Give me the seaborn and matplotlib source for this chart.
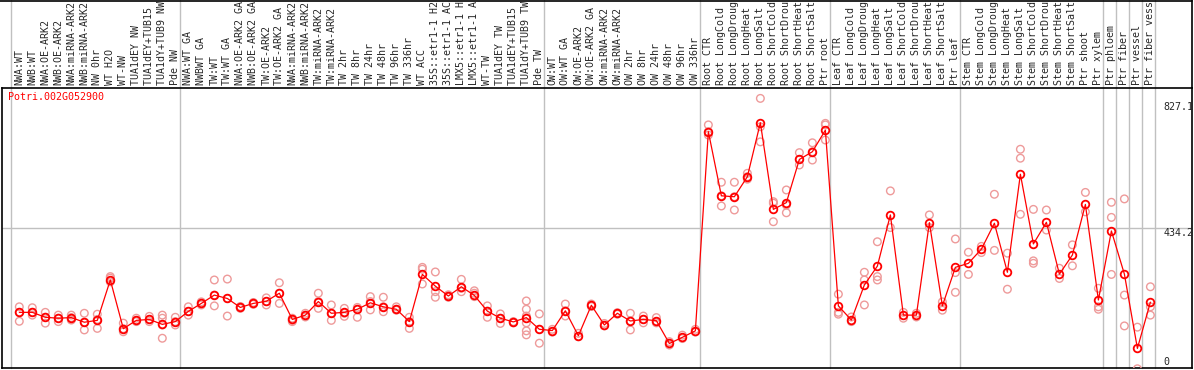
import numpy as np
import pandas as pd
import matplotlib.pyplot as plt
from matplotlib.lines import Line2D
import seaborn as sns

# sample names, in plotting order (groups separated by gray lines)
labels_nw = ["NWA:WT", "NWB:WT", "NWA:OE-ARK2", "NWB:OE-ARK2", "NWA:miRNA-ARK2",
             "NWB:miRNA-ARK2", "NW 0hr", "WT H2O", "WT-NW", "TUA1dEY NW",
             "TUA1dEY+TUB15 NW", "TUA1dY+TUB9 NW", "Pde NW"]
labels_tw = ["NWA:WT GA", "NWBWT GA", "TW:WT", "TW:WT GA", "NWA:OE-ARK2 GA",
             "NWB:OE-ARK2 GA", "TW:OE-ARK2", "TW:OE-ARK2 GA", "NWA:miRNA-ARK2",
             "NWB:miRNA-ARK2", "TW:miRNA-ARK2", "TW:miRNA-ARK2", "TW 2hr", "TW 8hr",
             "TW 24hr", "TW 48hr", "TW 96hr", "TW 336hr", "WT ACC",
             "35S::etr1-1 H2O", "35S::etr1-1 ACC", "LMX5::etr1-1 H2O",
             "LMX5::etr1-1 ACC", "WT-TW", "TUA1dEY TW", "TUA1dEY+TUB15 TW",
             "TUA1dY+TUB9 TW", "Pde TW"]
labels_ow = ["OW:WT", "OW:WT GA", "OW:OE-ARK2", "OW:OE-ARK2 GA", "OW:miRNA-ARK2",
             "OW:miRNA-ARK2", "OW 2hr", "OW 8hr", "OW 24hr", "OW 48hr", "OW 96hr",
             "OW 336hr"]
labels_root = ["Root CTR", "Root LongCold", "Root LongDrought", "Root LongHeat",
               "Root LongSalt", "Root ShortCold", "Root ShortDrought",
               "Root ShortHeat", "Root ShortSalt", "Ptr root"]
labels_leaf = ["Leaf CTR", "Leaf LongCold", "Leaf LongDrought", "Leaf LongHeat",
               "Leaf LongSalt", "Leaf ShortCold", "Leaf ShortDrought",
               "Leaf ShortHeat", "Leaf ShortSalt", "Ptr leaf"]
labels_stem = ["Stem CTR", "Stem LongCold", "Stem LongDrought", "Stem LongHeat",
               "Stem LongSalt", "Stem ShortCold", "Stem ShortDrought",
               "Stem ShortHeat", "Stem ShortSalt", "Ptr shoot", "Ptr xylem"]
labels_tissue = ["Ptr phloem", "Ptr fiber", "Ptr vessel", "Ptr fiber vessel"]

groups = [labels_nw, labels_tw, labels_ow, labels_root, labels_leaf, labels_stem]
labels = sum(groups, []) + labels_tissue

# mean expression per sample
means = [161, 161, 145, 142, 144, 129, 135, 266, 108, 135, 138, 122, 131,
         164, 190, 217, 206, 177, 190, 197, 223, 138, 152, 196, 158, 161, 171,
         192, 179, 171, 131, 284, 246, 214, 244, 216, 165, 142, 130, 144, 106,
         102, 166, 85, 184, 120, 158, 133, 138, 134, 60, 80, 101,
         747, 539, 536, 601, 776, 495, 517, 657, 682, 752,
         182, 136, 250, 311, 477, 152, 152, 452, 182, 307,
         320, 366, 450, 291, 609, 383, 453, 285, 347, 511, 201,
         425, 285, 44, 194]

# replicate values per sample
replicates = [
    [179, 161, 132], [176, 161, 152], [161, 145, 126], [152, 142, 131],
    [152, 144, 136], [158, 129, 104], [155, 138, 109], [277, 272, 260],
    [126, 108, 98], [142, 135, 131], [148, 138, 131], [152, 142, 120, 77],
    [145, 131, 120],
    [179, 164, 152], [195, 190, 185], [266, 217, 182], [269, 206, 149],
    [180, 177, 174], [193, 190, 187], [208, 196, 185], [257, 223, 190],
    [142, 135, 131], [158, 152, 146], [223, 196, 174], [185, 158, 135],
    [174, 158, 148], [177, 171, 145], [212, 196, 169], [210, 179, 163],
    [179, 171, 168], [145, 131, 109], [307, 301, 253], [292, 228, 210],
    [218, 214, 210], [268, 239, 228], [231, 223, 212], [182, 165, 145],
    [156, 142, 125], [131, 129, 127], [198, 171, 149, 127, 101, 88],
    [156, 106, 61],
    [106, 97], [188, 166, 149], [93, 82], [188, 180], [125, 117], [160, 155],
    [158, 133, 104], [149, 138, 127], [144, 131, 127], [66, 55], [87, 76],
    [106, 97],
    [769, 747, 736], [583, 539, 506], [583, 536, 493], [612, 601, 593],
    [855, 763, 714], [520, 515, 455], [558, 509, 484], [679, 657, 639],
    [711, 682, 655], [774, 769, 720],
    [220, 161, 155], [146, 131], [291, 266, 185], [390, 277, 266], [555, 436],
    [161, 142], [158, 146], [477, 436], [195, 168], [399, 290, 226],
    [356, 284], [375, 355], [544, 362], [353, 236], [690, 661, 479],
    [495, 328, 320], [493, 428], [304, 271], [380, 312], [550, 487],
    [239, 179, 171],
    [518, 469, 284], [529, 217, 117], [113, -22], [244, 179, 152],
]

gene = "Potri.002G052900"
ytick_vals = [0, 434.2, 827.1]

pos = np.arange(len(labels))
rep_df = pd.DataFrame([(i, v) for i, reps in enumerate(replicates) for v in reps],
                      columns=["pos", "value"])

sns.set_style("white")
mono = "DejaVu Sans Mono"

fig = plt.figure(figsize=(11.94, 3.70), dpi=100)
W, H = 1194, 370
ax = fig.add_axes([1.5 / W, 2 / H, 1190.5 / W, 280 / H])

# replicates (light) then the mean line on top
sns.scatterplot(data=rep_df, x="pos", y="value", ax=ax, marker="o", s=30,
                facecolors="none", edgecolor="#ee9a9a", linewidth=1.0, zorder=3)
sns.lineplot(x=pos, y=means, ax=ax, color="red", lw=0.9, marker="o", markersize=5.5,
             markerfacecolor="none", markeredgecolor="red", markeredgewidth=1.3,
             zorder=4)

ax.set_xlim(-1.37, 90.2)
ax.set_ylim(-19.5, 888.7)

# group separators, running up through the label area
cuts = np.cumsum([len(g) for g in groups])
seps = [-0.62] + [c - 0.62 for c in cuts] + [len(labels) - 4 + k + 0.38 for k in range(4)]
for s in seps:
    ax.axvline(s, ymin=0, ymax=368 / 280, color="#c0c0c0", lw=1, clip_on=False, zorder=1)
ax.axhline(434.2, color="#c0c0c0", lw=1, zorder=1)

# the label strip only has room for 14 characters, as in the original
ax.xaxis.tick_top()
ax.set_xticks(pos)
ax.set_xticklabels([lab[:14] for lab in labels], rotation=90, fontfamily=mono,
                   fontsize=7.2)
ax.tick_params(axis="x", length=0, pad=2)
ax.set_yticks([])
ax.set_xlabel("")
ax.set_ylabel("")
for sp in ax.spines.values():
    sp.set_color("black")
    sp.set_linewidth(1.2)

# value labels on the right
for v, va in zip(ytick_vals, ["center", "top", "center"]):
    ax.text(87.98, v, str(v) if v else "0", ha="left", va=va,
            fontfamily=mono, fontsize=7.2)

ax.text(6.5 / 1190.5, 1 - 9 / 280, gene, transform=ax.transAxes, color="red",
        ha="left", va="center", fontfamily=mono, fontsize=7.2)

# outer frame of the label area
fig.add_artist(Line2D([0, 1192 / W], [1 - 0.6 / H] * 2, color="black", lw=1.2))
fig.add_artist(Line2D([1192 / W] * 2, [282 / H, 1], color="black", lw=1.2))

fig.savefig("out.png", dpi=100)
